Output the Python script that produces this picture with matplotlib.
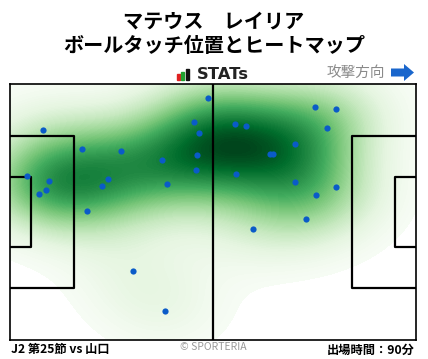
import matplotlib
matplotlib.use("Agg")
import matplotlib.pyplot as plt
import numpy as np
from matplotlib.patches import Rectangle, FancyArrow

plt.rcParams["font.family"] = ["Noto Sans CJK JP", "DejaVu Sans"]

# ボールタッチ位置 (ピッチ 0-100, 攻撃方向は右)
touch_x = [48.8, 8.2, 45.4, 46.6, 17.8, 27.4, 37.5, 46.1, 45.9, 4.3, 9.7,
           8.9, 7.2, 24.2, 22.7, 38.7, 19.0, 30.4, 38.3, 75.0, 80.4, 55.5,
           58.2, 78.2, 70.3, 64.0, 64.7, 55.7, 70.3, 80.4, 75.4, 73.0, 59.9]
touch_y = [94.4, 81.9, 85.0, 80.7, 74.5, 73.7, 70.2, 72.1, 66.3, 64.1, 62.0,
           58.5, 56.9, 62.8, 60.0, 60.8, 50.3, 26.8, 11.2, 90.9, 90.1, 84.3,
           83.5, 82.7, 76.4, 72.5, 72.5, 64.7, 61.6, 59.6, 56.5, 47.1, 43.2]

player_name = "マテウス　レイリア"
chart_title = "ボールタッチ位置とヒートマップ"
match_label = "J2 第25節 vs 山口"
minutes_label = "出場時間：90分"
direction_label = "攻撃方向"

W, H = 428, 359
fig = plt.figure(figsize=(W / 100, H / 100), dpi=100)

# ピッチ
ax = fig.add_axes([10 / W, (H - 340) / H, 406 / W, 256 / H])
ax.set_xlim(0, 100)
ax.set_ylim(0, 100)
ax.set_xticks([])
ax.set_yticks([])
for sp in ax.spines.values():
    sp.set_linewidth(1.2)

# ヒートマップ (ガウスカーネル密度)
gx, gy = np.meshgrid(np.linspace(0, 100, 300), np.linspace(0, 100, 200))
dens = np.zeros_like(gx)
for px, py in zip(touch_x, touch_y):
    dens += np.exp(-0.5 * (((gx - px) / 12) ** 2 + ((gy - py) / 13) ** 2))
dens /= dens.max()
ax.contourf(gx, gy, dens ** 1.2, levels=np.linspace(0.03, 1.0, 100), cmap="Greens", zorder=1)

# ライン
lc = dict(color="black", lw=1.6, zorder=3)
ax.plot([50, 50], [0, 100], **lc)
ax.plot([0, 15.8, 15.8, 0], [20.3, 20.3, 79.7, 79.7], **lc)
ax.plot([0, 5.2, 5.2, 0], [36.5, 36.5, 63.5, 63.5], **lc)
ax.plot([100, 84.2, 84.2, 100], [20.3, 20.3, 79.7, 79.7], **lc)
ax.plot([100, 94.8, 94.8, 100], [36.5, 36.5, 63.5, 63.5], **lc)

ax.scatter(touch_x, touch_y, s=20, color="#0a5bc8", zorder=5, linewidths=0)

# 文字・装飾 (ピクセル座標)
ov = fig.add_axes([0, 0, 1, 1])
ov.set_xlim(0, W)
ov.set_ylim(H, 0)
ov.patch.set_alpha(0)
ov.axis("off")

ov.text(214, 21, player_name, ha="center", va="center", fontsize=14.5, fontweight="bold")
ov.text(214, 46, chart_title, ha="center", va="center", fontsize=14.5, fontweight="bold")

ov.add_patch(Rectangle((177, 74), 3, 6, color="#e02020"))
ov.add_patch(Rectangle((181, 72), 3, 8, color="#20a030"))
ov.add_patch(Rectangle((186, 68.5), 3.5, 11.5, color="#111111"))
ov.text(197, 74.5, "STATs", ha="left", va="center", fontsize=11.8, fontweight="bold",
        family="DejaVu Sans", color="#222222")

ov.text(385, 72.5, direction_label, ha="right", va="center", fontsize=10.5, color="#8a8a8a")
ov.add_patch(FancyArrow(391, 72.5, 13, 0, width=8, head_width=17, head_length=10,
                        length_includes_head=False, color="#1a66cc", lw=0))

ov.text(11, 350, match_label, ha="left", va="center", fontsize=8.8, fontweight="bold")
ov.text(213, 347.5, "© SPORTERIA", ha="center", va="center", fontsize=7.5, color="#999999")
ov.text(415, 350, minutes_label, ha="right", va="center", fontsize=8.8, fontweight="bold")

fig.savefig("out.png", dpi=100)
